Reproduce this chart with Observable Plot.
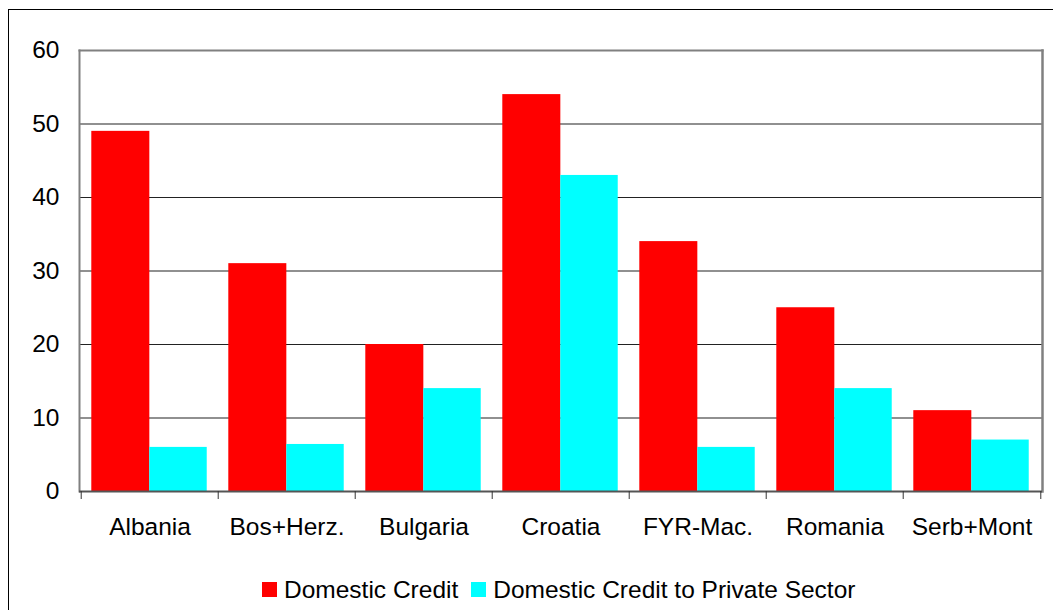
<!DOCTYPE html>
<html>
<head>
<meta charset="utf-8">
<script src="https://cdn.jsdelivr.net/npm/d3@7"></script>
<script src="https://cdn.jsdelivr.net/npm/@observablehq/plot@0.6"></script>
<style>
  html, body { margin: 0; padding: 0; background: #fff; overflow: hidden; width: 1053px; height: 610px; }
  #frame { position: absolute; left: 8px; top: 9px; width: 1200px; height: 800px; border: 1px solid #000; box-sizing: border-box; }
  #chart { position: absolute; left: 0; top: 0; }
  #legend { position: absolute; left: 262px; top: 576px; height: 27px; display: flex; align-items: center;
    font-family: "Liberation Sans", Arial, sans-serif; font-size: 24.5px; color: #000; white-space: nowrap; }
  .sw { width: 15px; height: 15px; display: inline-block; margin-right: 7px; }
  .item { display: flex; align-items: center; margin-right: 13px; }
</style>
</head>
<body>
<div id="frame"></div>
<div id="chart"></div>
<div id="legend"></div>
<script>
const countries = ["Albania", "Bos+Herz.", "Bulgaria", "Croatia", "FYR-Mac.", "Romania", "Serb+Mont"];
const domesticCredit = [49, 31, 20, 54, 34, 25, 11];
const privateSector = [6, 6.4, 14, 43, 6, 14, 7];
const seriesNames = ["Domestic Credit", "Domestic Credit to Private Sector"];
const seriesColors = ["#ff0000", "#00ffff"];
const yTicks = [0, 10, 20, 30, 40, 50, 60];

const W = 1053, H = 560;
const mL = 79, mR = 11, mT = 50, mB = H - 491;
const band = (W - mL - mR) / countries.length;
const gap = 10.3, bw = 58;

const redData = countries.map((c, i) => ({country: c, value: domesticCredit[i]}));
const cyanData = countries.map((c, i) => ({country: c, value: privateSector[i]}));

const chart = Plot.plot({
  width: W, height: H,
  marginLeft: mL, marginRight: mR, marginTop: mT, marginBottom: mB,
  style: {fontFamily: "'Liberation Sans', Arial, sans-serif", fontSize: "24.5px", color: "#000", background: "transparent"},
  x: {domain: countries, padding: 0},
  y: {domain: [0, 60]},
  marks: [
    Plot.ruleY(yTicks.filter(t => t > 0 && t < 60), {stroke: "#222", strokeWidth: 1.2}),
    Plot.barY(redData, {x: "country", y: "value", fill: seriesColors[0], insetLeft: gap, insetRight: band - gap - bw - 0.6}),
    Plot.barY(cyanData, {x: "country", y: "value", fill: seriesColors[1], insetLeft: gap + bw, insetRight: band - gap - 2 * bw}),
    Plot.frame({anchor: "top", stroke: "#808080", strokeWidth: 2}),
    Plot.frame({anchor: "left", stroke: "#808080", strokeWidth: 2}),
    Plot.frame({anchor: "right", stroke: "#808080", strokeWidth: 2.5}),
    Plot.ruleY([0], {stroke: "#555", strokeWidth: 2}),
    Plot.axisY({ticks: yTicks, tickSize: 0, tickPadding: 20, label: null, fontSize: 24.5}),
    Plot.axisX({tickSize: 8, text: null, dx: -band / 2, stroke: "#333", label: null}),
    Plot.axisX({ticks: [countries[countries.length - 1]], tickSize: 8, text: null, dx: band / 2, stroke: "#333", label: null}),
    Plot.axisX({tickSize: 0, tickPadding: 26, label: null, fontSize: 24.5})
  ]
});
document.getElementById("chart").appendChild(chart);

const legend = document.getElementById("legend");
seriesNames.forEach((n, i) => {
  const item = document.createElement("div");
  item.className = "item";
  const sw = document.createElement("span");
  sw.className = "sw";
  sw.style.background = seriesColors[i];
  item.appendChild(sw);
  item.appendChild(document.createTextNode(n));
  legend.appendChild(item);
});
</script>
</body>
</html>
